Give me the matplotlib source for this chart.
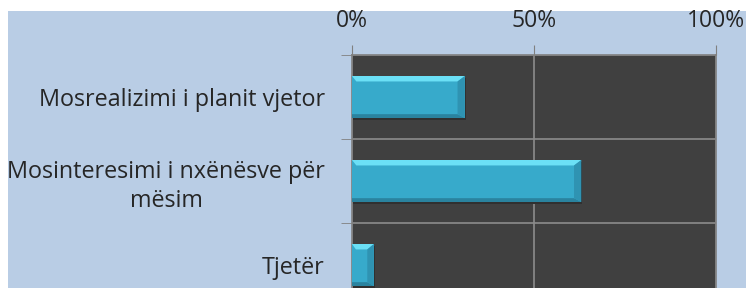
import matplotlib
matplotlib.use("Agg")
import matplotlib.pyplot as plt
from matplotlib.patches import Polygon
from matplotlib.ticker import FixedLocator, PercentFormatter

categories = ["Mosrealizimi i planit vjetor", "Mosinteresimi i nxënësve për\nmësim", "Tjetër"]
values = [31, 63, 6]
xticks = [0, 50, 100]

W, H = 746, 288
fig = plt.figure(figsize=(W / 100, H / 100), dpi=100)
fig.patch.set_facecolor("white")
# light blue background panel
fig.add_artist(plt.Rectangle((8 / W, 0), 1 - 8 / W, 1 - 11 / H, transform=fig.transFigure,
                             facecolor="#B9CDE5", edgecolor="none", zorder=-10))

left, right = 352 / W, 716 / W
top = 1 - 55 / H
bottom = (H - 307) / H
ax = fig.add_axes([left, bottom, right - left, top - bottom])
ax.set_facecolor("#404040")

font = "Open Sans"
y = list(range(len(categories)))
bh = 0.5
main = "#37AACB"
light = "#6BE0F6"
dark = "#2A839F"
for yi, v in zip(y, values):
    y0, y1 = yi - bh / 2, yi + bh / 2
    # shadow
    ax.barh(yi + 0.025, v, height=bh, left=0.3, color="#303030", zorder=2)
    ax.barh(yi, v, height=bh, color=main, zorder=3)
    bev = 0.13 * bh
    bx = min(2.0, v * 0.3)
    ax.add_patch(Polygon([(0, y0), (v, y0), (v - bx, y0 + bev), (bx * 0.6, y0 + bev)],
                         closed=True, facecolor=light, edgecolor="none", zorder=4))
    ax.add_patch(Polygon([(0, y1), (v, y1), (v - bx, y1 - bev * 0.7), (0, y1 - bev * 0.7)],
                         closed=True, facecolor=dark, edgecolor="none", zorder=4))
    ax.add_patch(Polygon([(v, y0), (v, y1), (v - bx, y1 - bev * 0.7), (v - bx, y0 + bev)],
                         closed=True, facecolor="#2F93B2", edgecolor="none", zorder=4))

ax.set_xlim(0, 100)
ax.set_ylim(len(categories) - 0.5, -0.5)
ax.xaxis.tick_top()
ax.set_xticks(xticks)
ax.xaxis.set_major_formatter(PercentFormatter(decimals=0))
ax.tick_params(axis="x", which="major", length=7, color="#808080", pad=9,
               labelsize=16.5, labelcolor="#262626")
for lab in ax.get_xticklabels():
    lab.set_fontfamily(font)

ax.set_yticks(y)
ax.set_yticklabels(categories, fontsize=16.8, color="#262626", fontfamily=font,
                   multialignment="center", linespacing=1.3)
ax.yaxis.set_minor_locator(FixedLocator([yi + 0.5 for yi in y[:-1]] + [-0.5]))
ax.tick_params(axis="y", which="major", length=0, pad=19.5)
ax.tick_params(axis="y", which="minor", length=8, color="#808080")

ax.grid(True, axis="x", which="major", color="#8C8C8C", linewidth=1.2, zorder=1)
ax.grid(True, axis="y", which="minor", color="#8C8C8C", linewidth=1.2, zorder=1)
ax.set_axisbelow(True)
for s in ["bottom"]:
    ax.spines[s].set_visible(False)
for s in ["top", "left", "right"]:
    ax.spines[s].set_color("#808080")
    ax.spines[s].set_linewidth(1.2)

fig.savefig("out.png", dpi=100, facecolor=fig.get_facecolor())
